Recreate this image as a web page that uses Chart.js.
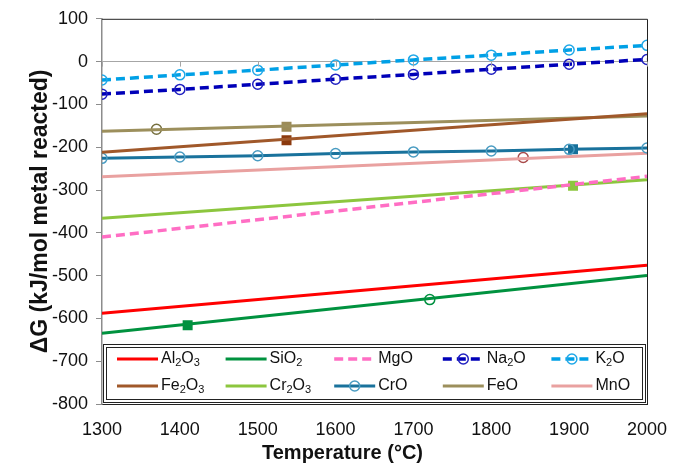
<!DOCTYPE html>
<html>
<head>
<meta charset="utf-8">
<script src="https://cdn.jsdelivr.net/npm/chart.js@4/dist/chart.umd.min.js"></script>
<style>
  html, body { margin: 0; padding: 0; background: #fff; }
  #wrap { width: 681px; height: 467px; }
</style>
</head>
<body>
<div id="wrap"><canvas id="myChart" width="681" height="467"></canvas></div>
<script>
// temperatures (°C)
const temps = [1300, 1400, 1500, 1600, 1700, 1800, 1900, 2000];
const lineEnds = [1300, 2000];

// ΔG values (kJ/mol metal reacted)
const na2o = [-76, -65, -53, -41, -30, -18, -6, 5];
const k2o = [-43, -31, -20, -8, 4, 15, 27, 38];
const cro = [-226, -223, -220, -215, -211, -209, -205, -202];
const al2o3 = [-588, -476];
const sio2 = [-635, -500];
const mgo = [-410, -268];
const fe2o3 = [-212, -122];
const cr2o3 = [-366, -276];
const feo = [-163, -127];
const mno = [-269, -214];

// extra single markers (not in legend)
const markerT = [1370, 1537, 1537, 1905, 1841, 1905, 1410, 1721];
const markerG = [-158, -152, -184, -205, -224, -290, -616, -556];
const markerColors = ["#76703f", "#9c8b58", "#8b3a0e", "#17709a", "#a84a4a", "#8dc63f", "#009040", "#009040"];
const markerFilled = [false, true, true, true, false, true, true, false];

const xTicks = [1300, 1400, 1500, 1600, 1700, 1800, 1900, 2000];
const xTitle = "Temperature (°C)";
const yTitle = "ΔG (kJ/mol metal reacted)";

function pts(xs, ys) {
  return xs.map((x, i) => ({ x: x, y: ys[i] }));
}

function lineSet(label, xs, ys, color, dashed, marker, markerColor) {
  return {
    label: label,
    data: pts(xs, ys),
    borderColor: color,
    backgroundColor: color,
    borderWidth: dashed ? 3.5 : 3,
    borderDash: dashed ? [9, 5] : [],
    pointRadius: marker ? 5 : 0,
    pointStyle: "circle",
    pointBorderColor: markerColor || color,
    pointBackgroundColor: "rgba(0,0,0,0)",
    pointBorderWidth: 1.5,
    showLine: true,
    fill: false,
    tension: 0
  };
}

let datasets = [
  lineSet("Al2O3", lineEnds, al2o3, "#ff0000", false, false),
  lineSet("SiO2", lineEnds, sio2, "#00923f", false, false),
  lineSet("MgO", lineEnds, mgo, "#ff6ec4", true, false),
  lineSet("Na2O", temps, na2o, "#0000b8", true, true, "#2020c0"),
  lineSet("K2O", temps, k2o, "#00a0e6", true, true, "#20a8e8"),
  lineSet("Fe2O3", lineEnds, fe2o3, "#a0582a", false, false),
  lineSet("Cr2O3", lineEnds, cr2o3, "#8cc63e", false, false),
  lineSet("CrO", temps, cro, "#19729c", false, true, "#4a9cc2"),
  lineSet("FeO", lineEnds, feo, "#9c8f5c", false, false),
  lineSet("MnO", lineEnds, mno, "#e9a1a0", false, false)
];

markerT.forEach((t, i) => {
  datasets.push({
    label: "",
    data: [{ x: t, y: markerG[i] }],
    showLine: false,
    pointStyle: markerFilled[i] ? "rect" : "circle",
    pointRadius: markerFilled[i] ? 6 : 5,
    pointBorderWidth: 1.5,
    pointBorderColor: markerColors[i],
    pointBackgroundColor: markerFilled[i] ? markerColors[i] : "rgba(0,0,0,0)",
    inLegend: false
  });
});

const FONT = "'Liberation Sans', Arial, sans-serif";

// draw label with digits as subscripts
function drawChem(c, text, x, y) {
  let cx = x;
  for (const ch of text) {
    if (/[0-9]/.test(ch)) {
      c.font = "11px " + FONT;
      c.fillText(ch, cx, y + 4);
    } else {
      c.font = "16px " + FONT;
      c.fillText(ch, cx, y);
    }
    cx += c.measureText(ch).width;
  }
}

const framePlugin = {
  id: "frame",
  afterDatasetsDraw(chart) {
    const c = chart.ctx;
    const a = chart.chartArea;
    const xs = chart.scales.x;
    const ys = chart.scales.y;
    c.save();
    // top and right frame
    c.strokeStyle = "#222";
    c.lineWidth = 1;
    c.beginPath();
    c.moveTo(a.left, a.top + 0.5);
    c.lineTo(a.right + 0.5, a.top + 0.5);
    c.lineTo(a.right + 0.5, a.bottom);
    c.stroke();
    // small ticks on the zero line
    const y0 = ys.getPixelForValue(0);
    c.strokeStyle = "#a6a6a6";
    c.beginPath();
    xTicks.forEach(t => {
      const px = Math.round(xs.getPixelForValue(t)) + 0.5;
      c.moveTo(px, y0);
      c.lineTo(px, y0 + 5);
    });
    c.stroke();
    // x axis title, centred on the whole figure like the original
    c.fillStyle = "#111";
    c.font = "bold 20px " + FONT;
    c.textAlign = "center";
    c.textBaseline = "middle";
    c.fillText(xTitle, chart.width / 2 + 2, 453);
    c.restore();
  }
};

const legendPlugin = {
  id: "boxLegend",
  afterDraw(chart) {
    const c = chart.ctx;
    const a = chart.chartArea;
    const items = chart.data.datasets.filter(d => d.inLegend !== false);
    const left = a.left + 1, right = a.right - 1;
    const top = 344, bottom = a.bottom - 1;
    c.save();
    c.fillStyle = "#fff";
    c.fillRect(left, top, right - left, bottom - top);
    c.strokeStyle = "#222";
    c.lineWidth = 1;
    c.strokeRect(left + 0.5, top + 0.5, right - left - 1, bottom - top - 1);
    c.strokeRect(left + 3.5, top + 3.5, right - left - 7, bottom - top - 7);
    const colW = (right - left) / 5;
    const rowY = [top + 15, top + 42];
    items.forEach((d, i) => {
      const col = i % 5, row = Math.floor(i / 5);
      const x0 = left + 14 + col * colW;
      const y = rowY[row];
      c.strokeStyle = d.borderColor;
      c.lineWidth = d.borderWidth;
      c.setLineDash(d.borderDash);
      c.beginPath();
      c.moveTo(x0, y);
      c.lineTo(x0 + 41, y);
      c.stroke();
      c.setLineDash([]);
      if (d.pointRadius > 0) {
        c.strokeStyle = d.pointBorderColor;
        c.lineWidth = 1.5;
        c.beginPath();
        c.arc(x0 + 20.5, y, 5, 0, Math.PI * 2);
        c.stroke();
      }
      c.fillStyle = "#111";
      c.textBaseline = "middle";
      drawChem(c, d.label, x0 + 44, y);
    });
    c.restore();
  }
};

const ctx = document.getElementById("myChart");
new Chart(ctx, {
  type: "scatter",
  data: { datasets: datasets },
  options: {
    responsive: false,
    animation: false,
    layout: { padding: { left: 27, right: 34, top: 17, bottom: 0 } },
    plugins: {
      legend: { display: false },
      tooltip: { enabled: false }
    },
    scales: {
      x: {
        type: "linear",
        min: 1300,
        max: 2000,
        afterBuildTicks: s => { s.ticks = xTicks.map(v => ({ value: v })); },
        grid: { display: false },
        border: { display: true, color: "#222", width: 1 },
        ticks: {
          color: "#111",
          padding: 7,
          maxRotation: 0,
          callback: v => String(v),
          font: { family: FONT, size: 18 }
        },
        title: { display: false },
        afterFit: s => { s.height = 63; }
      },
      y: {
        min: -800,
        max: 100,
        ticks: {
          stepSize: 100,
          color: "#111",
          padding: 8,
          font: { family: FONT, size: 18 }
        },
        grid: {
          color: c => (c.tick && c.tick.value === 0) ? "#a6a6a6" : "rgba(0,0,0,0)",
          tickColor: "#8c8c8c",
          tickLength: 6
        },
        border: { display: true, color: "#8c8c8c", width: 1.5 },
        title: {
          display: true,
          text: yTitle,
          color: "#111",
          padding: { top: 0, bottom: 0 },
          font: { family: FONT, size: 23, weight: "bold" }
        },
        afterFit: s => { s.width = 75; }
      }
    }
  },
  plugins: [framePlugin, legendPlugin]
});
</script>
</body>
</html>
